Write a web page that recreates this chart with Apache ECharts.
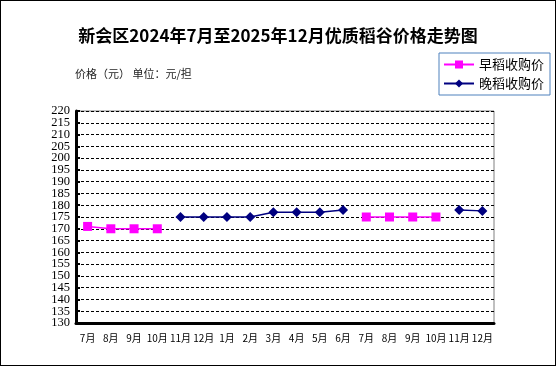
<!DOCTYPE html>
<html><head><meta charset="utf-8">
<script src="https://cdn.jsdelivr.net/npm/echarts@6/dist/echarts.min.js"></script>
<style>html,body{margin:0;padding:0;background:#fff;overflow:hidden}#c{width:556px;height:366px;position:absolute;left:0;top:0}
#f{position:absolute;left:0;top:0;width:554px;height:364px;border:1px solid #000;pointer-events:none;z-index:10}</style>
</head><body><div id="c"></div><div id="f"></div>
<script>
const titleText = '新会区2024年7月至2025年12月优质稻谷价格走势图';
const yAxisName = '价格（元） 单位：元/担';
const categories = ['7月','8月','9月','10月','11月','12月','1月','2月','3月','4月','5月','6月','7月','8月','9月','10月','11月','12月'];
const earlyName = '早稻收购价';
const lateName = '晚稻收购价';
const earlyValues = [171,170,170,170,null,null,null,null,null,null,null,null,175,175,175,175,null,null];
const lateValues = [null,null,null,null,175,175,175,175,177,177,177,178,null,null,null,null,178,177.6];
const yTicksA = [130,140,150,160,170,180,190,200,210,220];
const yTicksB = [135,145,155,165,175,185,195,205,215];
const yMin = 130, yMax = 220, yStep = 5;

const labelStyle = {margin:6,hideOverlap:false,showMinLabel:true,showMaxLabel:true,
  fontFamily:'Liberation Serif',fontSize:12.5,color:'#000'};

const chart = echarts.init(document.getElementById('c'));
chart.setOption({
  backgroundColor:'#fff',
  animation:false,
  title:{text:titleText,left:'center',top:22,
    textStyle:{fontFamily:'Noto Sans CJK SC',fontWeight:'bold',fontSize:17,color:'#000'}},
  graphic:[
    {type:'text',left:75,top:68,style:{text:yAxisName,font:'11px "Noto Sans CJK SC"',fill:'#222'}}
  ],
  legend:{orient:'vertical',left:439,top:53,width:110,height:44,
    padding:[5,6,5,4],itemGap:6,itemWidth:30,itemHeight:10,
    borderColor:'#4f81bd',borderWidth:1,
    textStyle:{fontFamily:'Noto Sans CJK SC',fontSize:13,color:'#000'},
    data:[earlyName,lateName]},
  grid:{left:76,right:62,top:111,bottom:43,show:true,borderColor:'#808080',borderWidth:1},
  xAxis:{type:'category',data:categories,boundaryGap:true,
    axisLine:{lineStyle:{color:'#000',width:3}},
    axisTick:{inside:true,length:4,lineStyle:{color:'#000',width:2}},
    axisLabel:{interval:0,margin:10,fontFamily:'Noto Sans CJK SC',fontSize:10,color:'#000'},
    splitLine:{show:false}},
  yAxis:[
    {type:'value',min:yMin,max:yMax,interval:yStep,position:'left',
      axisLine:{show:true,lineStyle:{color:'#000',width:3}},
      axisTick:{show:true,inside:true,length:4,lineStyle:{color:'#000',width:2}},
      axisLabel:Object.assign({customValues:yTicksA},labelStyle),
      splitLine:{lineStyle:{color:'#000',type:[3,2],width:1}}},
    {type:'value',min:yMin,max:yMax,interval:yStep,position:'left',offset:0,
      axisLine:{show:false},axisTick:{show:false},splitLine:{show:false},
      axisLabel:Object.assign({customValues:yTicksB},labelStyle)}
  ],
  series:[
    {name:earlyName,type:'line',yAxisIndex:0,data:earlyValues,connectNulls:false,
      symbol:'rect',symbolSize:9,
      lineStyle:{color:'#ff00ff',width:1.5},itemStyle:{color:'#ff00ff'}},
    {name:lateName,type:'line',yAxisIndex:0,data:lateValues,connectNulls:false,
      symbol:'diamond',symbolSize:10,
      lineStyle:{color:'#000080',width:1.5},itemStyle:{color:'#000080'}}
  ]
});
</script></body></html>
